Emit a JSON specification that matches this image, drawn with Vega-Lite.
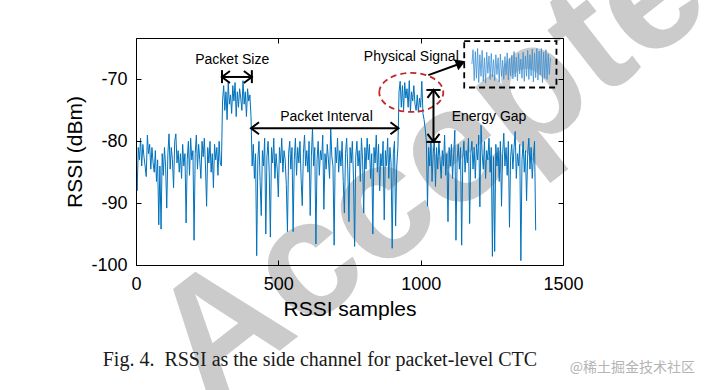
{
  "$schema": "https://vega.github.io/schema/vega-lite/v6.json",
  "width": 427,
  "height": 227,
  "autosize": {"type": "none"},
  "padding": {"left": 136, "top": 38, "right": 154, "bottom": 125},
  "background": "white",
  "config": {
    "view": {"stroke": null},
    "axis": {"domainColor": "#000", "tickColor": "#000", "labelColor": "#000", "titleColor": "#000", "grid": false, "domainWidth": 1, "tickWidth": 1, "labelFont": "Liberation Sans", "titleFont": "Liberation Sans", "titleFontWeight": "normal", "labelFlush": false, "zindex": 1}
  },
  "datasets": {
    "main": [
      {"sample":0,"rssi":-84.5},{"sample":4,"rssi":-88},{"sample":8,"rssi":-81},{"sample":12,"rssi":-83},{"sample":16,"rssi":-79.5},{"sample":20,"rssi":-84},{"sample":24,"rssi":-80.5},{"sample":28,"rssi":-82.5},{"sample":32,"rssi":-84},{"sample":36,"rssi":-85.7},{"sample":40,"rssi":-79},{"sample":44,"rssi":-82},{"sample":48,"rssi":-80.5},{"sample":52,"rssi":-84.5},{"sample":56,"rssi":-81},{"sample":60,"rssi":-83.5},{"sample":64,"rssi":-85},{"sample":68,"rssi":-81.5},{"sample":72,"rssi":-86.5},{"sample":76,"rssi":-83},{"sample":80,"rssi":-93.5},{"sample":84,"rssi":-84},{"sample":88,"rssi":-94.2},{"sample":92,"rssi":-82},{"sample":96,"rssi":-85.5},
      {"sample":100,"rssi":-81},{"sample":104,"rssi":-84},{"sample":108,"rssi":-90.8},{"sample":112,"rssi":-82},{"sample":116,"rssi":-78.8},{"sample":120,"rssi":-84.5},{"sample":124,"rssi":-81},{"sample":128,"rssi":-83},{"sample":132,"rssi":-87.5},{"sample":136,"rssi":-80},{"sample":140,"rssi":-78.8},{"sample":144,"rssi":-83.5},{"sample":148,"rssi":-81.5},{"sample":152,"rssi":-85},{"sample":156,"rssi":-82},{"sample":160,"rssi":-86},{"sample":164,"rssi":-80.5},{"sample":168,"rssi":-84},{"sample":172,"rssi":-82},{"sample":176,"rssi":-93.2},{"sample":180,"rssi":-83},{"sample":184,"rssi":-80},{"sample":188,"rssi":-85.5},{"sample":192,"rssi":-79.5},{"sample":196,"rssi":-83},
      {"sample":200,"rssi":-81.5},{"sample":204,"rssi":-96},{"sample":208,"rssi":-82},{"sample":212,"rssi":-79},{"sample":216,"rssi":-84.5},{"sample":220,"rssi":-80.5},{"sample":224,"rssi":-83},{"sample":228,"rssi":-86},{"sample":232,"rssi":-80},{"sample":236,"rssi":-82.5},{"sample":240,"rssi":-79.5},{"sample":244,"rssi":-84},{"sample":248,"rssi":-90.5},{"sample":252,"rssi":-81},{"sample":256,"rssi":-83.5},{"sample":260,"rssi":-80},{"sample":264,"rssi":-85},{"sample":268,"rssi":-82},{"sample":272,"rssi":-87.5},{"sample":276,"rssi":-80.5},{"sample":280,"rssi":-83},{"sample":284,"rssi":-81},{"sample":288,"rssi":-85.5},{"sample":292,"rssi":-80},{"sample":296,"rssi":-83.5},
      {"sample":300,"rssi":-84},{"sample":304,"rssi":-73.5},{"sample":308,"rssi":-71},{"sample":312,"rssi":-75},{"sample":316,"rssi":-72},{"sample":320,"rssi":-76.5},{"sample":324,"rssi":-70.5},{"sample":328,"rssi":-74},{"sample":332,"rssi":-72.5},{"sample":336,"rssi":-75.5},{"sample":340,"rssi":-71},{"sample":344,"rssi":-73.5},{"sample":348,"rssi":-70.5},{"sample":352,"rssi":-76},{"sample":356,"rssi":-72},{"sample":360,"rssi":-74.5},{"sample":364,"rssi":-71.5},{"sample":368,"rssi":-73},{"sample":372,"rssi":-75},{"sample":376,"rssi":-70.2},{"sample":380,"rssi":-74},{"sample":384,"rssi":-72},{"sample":388,"rssi":-76},{"sample":392,"rssi":-71.5},{"sample":396,"rssi":-73.5},
      {"sample":400,"rssi":-72.5},{"sample":404,"rssi":-76},{"sample":408,"rssi":-84},{"sample":412,"rssi":-80.5},{"sample":416,"rssi":-86},{"sample":420,"rssi":-82},{"sample":424,"rssi":-98.5},{"sample":428,"rssi":-83},{"sample":432,"rssi":-80},{"sample":436,"rssi":-86.5},{"sample":440,"rssi":-92},{"sample":444,"rssi":-81.5},{"sample":448,"rssi":-84},{"sample":452,"rssi":-79.5},{"sample":456,"rssi":-95},{"sample":460,"rssi":-82.5},{"sample":464,"rssi":-80},{"sample":468,"rssi":-85},{"sample":472,"rssi":-95.5},{"sample":476,"rssi":-81},{"sample":480,"rssi":-83.5},{"sample":484,"rssi":-79.5},{"sample":488,"rssi":-86},{"sample":492,"rssi":-82},{"sample":496,"rssi":-84.5},
      {"sample":500,"rssi":-89},{"sample":504,"rssi":-81},{"sample":508,"rssi":-83.5},{"sample":512,"rssi":-79.5},{"sample":516,"rssi":-85},{"sample":520,"rssi":-81.5},{"sample":524,"rssi":-83},{"sample":528,"rssi":-87},{"sample":532,"rssi":-94.6},{"sample":536,"rssi":-82},{"sample":540,"rssi":-80},{"sample":544,"rssi":-84.5},{"sample":548,"rssi":-81},{"sample":552,"rssi":-94.6},{"sample":556,"rssi":-83},{"sample":560,"rssi":-79.5},{"sample":564,"rssi":-85.5},{"sample":568,"rssi":-81},{"sample":572,"rssi":-83.5},{"sample":576,"rssi":-80},{"sample":580,"rssi":-86},{"sample":584,"rssi":-90.4},{"sample":588,"rssi":-82},{"sample":592,"rssi":-79},{"sample":596,"rssi":-84},
      {"sample":600,"rssi":-81.5},{"sample":604,"rssi":-85},{"sample":608,"rssi":-80},{"sample":612,"rssi":-92},{"sample":616,"rssi":-82.5},{"sample":620,"rssi":-77.9},{"sample":624,"rssi":-84},{"sample":628,"rssi":-81},{"sample":632,"rssi":-96.6},{"sample":636,"rssi":-83},{"sample":640,"rssi":-80},{"sample":644,"rssi":-85.5},{"sample":648,"rssi":-81.5},{"sample":652,"rssi":-83},{"sample":656,"rssi":-79},{"sample":660,"rssi":-91},{"sample":664,"rssi":-82},{"sample":668,"rssi":-84.5},{"sample":672,"rssi":-80.5},{"sample":676,"rssi":-83},{"sample":680,"rssi":-86},{"sample":684,"rssi":-77.9},{"sample":688,"rssi":-82.5},{"sample":692,"rssi":-84},{"sample":696,"rssi":-96.8},
      {"sample":700,"rssi":-81},{"sample":704,"rssi":-83.5},{"sample":708,"rssi":-79.5},{"sample":712,"rssi":-85},{"sample":716,"rssi":-81.5},{"sample":720,"rssi":-84},{"sample":724,"rssi":-80},{"sample":728,"rssi":-86.5},{"sample":732,"rssi":-91.6},{"sample":736,"rssi":-82},{"sample":740,"rssi":-79.5},{"sample":744,"rssi":-84.5},{"sample":748,"rssi":-93},{"sample":752,"rssi":-81},{"sample":756,"rssi":-83.5},{"sample":760,"rssi":-80},{"sample":764,"rssi":-86},{"sample":768,"rssi":-97},{"sample":772,"rssi":-82.5},{"sample":776,"rssi":-80},{"sample":780,"rssi":-84},{"sample":784,"rssi":-81.5},{"sample":788,"rssi":-86.5},{"sample":792,"rssi":-79.5},{"sample":796,"rssi":-83},
      {"sample":800,"rssi":-91.6},{"sample":804,"rssi":-81},{"sample":808,"rssi":-84.5},{"sample":812,"rssi":-79.5},{"sample":816,"rssi":-83},{"sample":820,"rssi":-80.5},{"sample":824,"rssi":-86},{"sample":828,"rssi":-82},{"sample":832,"rssi":-95},{"sample":836,"rssi":-81},{"sample":840,"rssi":-83.5},{"sample":844,"rssi":-79},{"sample":848,"rssi":-85},{"sample":852,"rssi":-80.5},{"sample":856,"rssi":-88},{"sample":860,"rssi":-82},{"sample":864,"rssi":-84},{"sample":868,"rssi":-80},{"sample":872,"rssi":-92.7},{"sample":876,"rssi":-81.5},{"sample":880,"rssi":-84},{"sample":884,"rssi":-79.5},{"sample":888,"rssi":-86},{"sample":892,"rssi":-81},{"sample":896,"rssi":-83.5},
      {"sample":900,"rssi":-97.3},{"sample":904,"rssi":-82},{"sample":908,"rssi":-80},{"sample":912,"rssi":-93.7},{"sample":916,"rssi":-84},{"sample":920,"rssi":-81},{"sample":924,"rssi":-72},{"sample":928,"rssi":-70.3},{"sample":932,"rssi":-74.5},{"sample":936,"rssi":-71},{"sample":940,"rssi":-75},{"sample":944,"rssi":-70.5},{"sample":948,"rssi":-73},{"sample":952,"rssi":-71.5},{"sample":956,"rssi":-74.5},{"sample":960,"rssi":-70.2},{"sample":964,"rssi":-75.2},{"sample":968,"rssi":-72},{"sample":972,"rssi":-73.5},{"sample":976,"rssi":-71},{"sample":980,"rssi":-74},{"sample":984,"rssi":-75},{"sample":988,"rssi":-72.5},{"sample":992,"rssi":-75.3},{"sample":996,"rssi":-73},
      {"sample":1000,"rssi":-74.5},{"sample":1004,"rssi":-70.3},{"sample":1008,"rssi":-75.5},{"sample":1012,"rssi":-76.5},{"sample":1016,"rssi":-78},{"sample":1020,"rssi":-80},{"sample":1024,"rssi":-90.5},{"sample":1028,"rssi":-81},{"sample":1032,"rssi":-84},{"sample":1036,"rssi":-80},{"sample":1040,"rssi":-86.5},{"sample":1044,"rssi":-82},{"sample":1048,"rssi":-79.5},{"sample":1052,"rssi":-87.3},{"sample":1056,"rssi":-81},{"sample":1060,"rssi":-84.5},{"sample":1064,"rssi":-80},{"sample":1068,"rssi":-83},{"sample":1072,"rssi":-86},{"sample":1076,"rssi":-81.5},{"sample":1080,"rssi":-84},{"sample":1084,"rssi":-79},{"sample":1088,"rssi":-85.5},{"sample":1092,"rssi":-82},{"sample":1096,"rssi":-93},
      {"sample":1100,"rssi":-81},{"sample":1104,"rssi":-84},{"sample":1108,"rssi":-80.5},{"sample":1112,"rssi":-86},{"sample":1116,"rssi":-82},{"sample":1120,"rssi":-78.2},{"sample":1124,"rssi":-96},{"sample":1128,"rssi":-83},{"sample":1132,"rssi":-80.5},{"sample":1136,"rssi":-84.5},{"sample":1140,"rssi":-81},{"sample":1144,"rssi":-96.8},{"sample":1148,"rssi":-82.5},{"sample":1152,"rssi":-80},{"sample":1156,"rssi":-85},{"sample":1160,"rssi":-81.5},{"sample":1164,"rssi":-83.5},{"sample":1168,"rssi":-79.5},{"sample":1172,"rssi":-93.3},{"sample":1176,"rssi":-82},{"sample":1180,"rssi":-80},{"sample":1184,"rssi":-84.5},{"sample":1188,"rssi":-81},{"sample":1192,"rssi":-86},{"sample":1196,"rssi":-80.5},
      {"sample":1200,"rssi":-83},{"sample":1204,"rssi":-79},{"sample":1208,"rssi":-90.6},{"sample":1212,"rssi":-77.4},{"sample":1216,"rssi":-82},{"sample":1220,"rssi":-84.5},{"sample":1224,"rssi":-80},{"sample":1228,"rssi":-86},{"sample":1232,"rssi":-81.5},{"sample":1236,"rssi":-83},{"sample":1240,"rssi":-79.5},{"sample":1244,"rssi":-85},{"sample":1248,"rssi":-81},{"sample":1252,"rssi":-98.6},{"sample":1256,"rssi":-82.5},{"sample":1260,"rssi":-97.8},{"sample":1264,"rssi":-80.5},{"sample":1268,"rssi":-84},{"sample":1272,"rssi":-81},{"sample":1276,"rssi":-86.5},{"sample":1280,"rssi":-80},{"sample":1284,"rssi":-90.5},{"sample":1288,"rssi":-82},{"sample":1292,"rssi":-78.7},{"sample":1296,"rssi":-84},
      {"sample":1300,"rssi":-81},{"sample":1304,"rssi":-85.5},{"sample":1308,"rssi":-80},{"sample":1312,"rssi":-93.9},{"sample":1316,"rssi":-82.5},{"sample":1320,"rssi":-80.5},{"sample":1324,"rssi":-84.5},{"sample":1328,"rssi":-81},{"sample":1332,"rssi":-78.4},{"sample":1336,"rssi":-86},{"sample":1340,"rssi":-82},{"sample":1344,"rssi":-84},{"sample":1348,"rssi":-80.5},{"sample":1352,"rssi":-99.3},{"sample":1356,"rssi":-83},{"sample":1360,"rssi":-80},{"sample":1364,"rssi":-85},{"sample":1368,"rssi":-81.5},{"sample":1372,"rssi":-89.6},{"sample":1376,"rssi":-82},{"sample":1380,"rssi":-79.5},{"sample":1384,"rssi":-84.5},{"sample":1388,"rssi":-81},{"sample":1392,"rssi":-86},{"sample":1396,"rssi":-82.5},
      {"sample":1400,"rssi":-80},{"sample":1404,"rssi":-94.4}
    ],
    "inset": [
      {"sample":1180,"rssi":-67.5},{"sample":1184,"rssi":-65.2},{"sample":1188,"rssi":-70.2},{"sample":1192,"rssi":-65.5},{"sample":1196,"rssi":-69.8},{"sample":1200,"rssi":-65.0},{"sample":1204,"rssi":-70.5},{"sample":1208,"rssi":-66.0},{"sample":1212,"rssi":-69.5},{"sample":1216,"rssi":-65.3},{"sample":1220,"rssi":-70.3},{"sample":1224,"rssi":-66.5},{"sample":1228,"rssi":-70.6},{"sample":1232,"rssi":-65.6},{"sample":1236,"rssi":-69.0},{"sample":1240,"rssi":-66.2},{"sample":1244,"rssi":-70.0},{"sample":1248,"rssi":-65.8},{"sample":1252,"rssi":-69.6},{"sample":1256,"rssi":-66.8},{"sample":1260,"rssi":-70.2},{"sample":1264,"rssi":-66.0},{"sample":1268,"rssi":-69.2},{"sample":1272,"rssi":-66.5},{"sample":1276,"rssi":-70.4},{"sample":1280,"rssi":-65.9},{"sample":1284,"rssi":-69.5},{"sample":1288,"rssi":-66.9},{"sample":1292,"rssi":-70.0},{"sample":1296,"rssi":-66.3},{"sample":1300,"rssi":-69.3},{"sample":1304,"rssi":-65.7},{"sample":1308,"rssi":-70.1},{"sample":1312,"rssi":-66.6},{"sample":1316,"rssi":-69.4},{"sample":1320,"rssi":-66.1},{"sample":1324,"rssi":-69.9},{"sample":1328,"rssi":-65.5},{"sample":1332,"rssi":-69.6},{"sample":1336,"rssi":-66.4},{"sample":1340,"rssi":-70.2},{"sample":1344,"rssi":-65.8},{"sample":1348,"rssi":-69.1},{"sample":1352,"rssi":-66.7},{"sample":1356,"rssi":-69.8},{"sample":1360,"rssi":-65.6},{"sample":1364,"rssi":-70.3},{"sample":1368,"rssi":-66.2},{"sample":1372,"rssi":-69.5},{"sample":1376,"rssi":-65.3},{"sample":1380,"rssi":-70.0},{"sample":1384,"rssi":-66.0},{"sample":1388,"rssi":-69.4},{"sample":1392,"rssi":-65.1},{"sample":1396,"rssi":-70.4},{"sample":1400,"rssi":-65.7},{"sample":1404,"rssi":-69.7},{"sample":1408,"rssi":-65.0},{"sample":1412,"rssi":-70.1},{"sample":1416,"rssi":-65.4},{"sample":1420,"rssi":-69.3},{"sample":1424,"rssi":-65.0},{"sample":1428,"rssi":-70.5},{"sample":1432,"rssi":-65.6},{"sample":1436,"rssi":-69.8},{"sample":1440,"rssi":-65.2},{"sample":1444,"rssi":-70.0},{"sample":1448,"rssi":-65.9},{"sample":1452,"rssi":-69.2},{"sample":1456,"rssi":-66.5}
    ],
    "segments": [
      {"part":"packet size","sample":302,"rssi":-69.6,"sample2":407,"rssi2":-69.6},
      {"part":"packet size start","sample":302,"rssi":-68.5,"sample2":302,"rssi2":-70.6},
      {"part":"packet size end","sample":407,"rssi":-68.5,"sample2":407,"rssi2":-70.6},
      {"part":"packet interval","sample":404,"rssi":-77.9,"sample2":922,"rssi2":-77.9},
      {"part":"energy gap","sample":1045,"rssi":-71.7,"sample2":1045,"rssi2":-80.1},
      {"part":"energy gap top","sample":1020,"rssi":-71.7,"sample2":1070,"rssi2":-71.7},
      {"part":"energy gap bottom","sample":1020,"rssi":-80.1,"sample2":1070,"rssi2":-80.1},
      {"part":"signal pointer","sample":1027,"rssi":-69.3,"sample2":1135,"rssi2":-67.5}
    ],
    "heads": [
      {"dir":"left","sample":302,"rssi":-69.6},
      {"dir":"right","sample":407,"rssi":-69.6},
      {"dir":"left","sample":404,"rssi":-77.9},
      {"dir":"right","sample":922,"rssi":-77.9},
      {"dir":"up","sample":1045,"rssi":-71.7},
      {"dir":"down","sample":1045,"rssi":-80.1}
    ],
    "labels": [
      {"label":"Packet Size","sample":338,"rssi":-66.8},
      {"label":"Packet Interval","sample":669,"rssi":-76.1},
      {"label":"Physical Signal","sample":967,"rssi":-66.35},
      {"label":"Energy Gap","sample":1240,"rssi":-76.1}
    ]
  },
  "encoding": {
    "x": {"field": "sample", "type": "quantitative", "scale": {"domain": [0, 1500], "nice": false, "zero": false}, "axis": null},
    "y": {"field": "rssi", "type": "quantitative", "scale": {"domain": [-100, -63.3], "nice": false, "zero": false}, "axis": null}
  },
  "layer": [
    {
      "data": {"values": [{"label": "Accepted", "sample": 250, "rssi": -123.0}]},
      "mark": {"type": "text", "font": "Liberation Sans", "fontWeight": "bold", "fontSize": 166, "angle": -38, "align": "left", "baseline": "alphabetic", "color": "#cbcbcb", "zindex": 0},
      "encoding": {"text": {"field": "label"}}
    },
    {
      "data": {"name": "main"},
      "mark": {"type": "line", "color": "#0072BD", "strokeWidth": 1, "clip": true},
      "encoding": {
        "x": {"field": "sample", "type": "quantitative", "scale": {"domain": [0, 1500], "nice": false, "zero": false},
              "axis": {"orient": "bottom", "zindex": 1, "values": [0, 500, 1000, 1500], "labelExpr": "toString(datum.value)", "title": "RSSI samples", "titleFontSize": 21, "titlePadding": 5, "labelFontSize": 18, "labelPadding": 15, "tickSize": -5}},
        "y": {"field": "rssi", "type": "quantitative", "scale": {"domain": [-100, -63.3], "nice": false, "zero": false},
              "axis": {"orient": "left", "zindex": 1, "values": [-100, -90, -80, -70], "labelExpr": "toString(datum.value)", "title": "RSSI (dBm)", "titleFontSize": 21, "titlePadding": 5, "labelFontSize": 18, "labelPadding": 14, "tickSize": -5}}
      }
    },
    {
      "data": {"name": "inset"},
      "mark": {"type": "line", "color": "#3b8fd4", "strokeWidth": 0.8}
    },
    {
      "data": {"values": [{"part": "inset frame", "sample": 1153, "rssi": -63.8, "sample2": 1477, "rssi2": -71.3}]},
      "mark": {"type": "rect", "filled": false, "stroke": "#000", "strokeWidth": 1.8, "strokeDash": [6, 4]},
      "encoding": {"x2": {"field": "sample2"}, "y2": {"field": "rssi2"}}
    },
    {
      "data": {"values": [{"part": "highlight", "sample": 967, "rssi": -72.1}]},
      "mark": {"type": "point", "shape": "M -1 0 A 1 0.61 0 1 1 1 0 A 1 0.61 0 1 1 -1 0 Z", "size": 4096, "filled": false, "stroke": "#c1272d", "strokeWidth": 1.8, "strokeDash": [6, 4], "opacity": 1},
      "encoding": {
        "x": {"field": "sample", "type": "quantitative", "scale": {"domain": [0, 1500], "nice": false, "zero": false},
              "axis": {"orient": "top", "zindex": 1, "values": [0, 500, 1000, 1500], "labels": false, "title": null, "tickSize": -5}},
        "y": {"field": "rssi", "type": "quantitative", "scale": {"domain": [-100, -63.3], "nice": false, "zero": false},
              "axis": {"orient": "right", "zindex": 1, "values": [-100, -90, -80, -70], "labels": false, "title": null, "tickSize": -5}}
      }
    },
    {
      "data": {"name": "segments"},
      "mark": {"type": "rule", "color": "#000", "strokeWidth": 2},
      "encoding": {"x2": {"field": "sample2"}, "y2": {"field": "rssi2"}}
    },
    {
      "data": {"name": "heads"},
      "transform": [{"filter": "datum.dir === 'up'"}],
      "mark": {"type": "point", "shape": "M -0.75 1 L 0 0 L 0.75 1", "size": 256, "filled": false, "stroke": "#000", "strokeWidth": 2, "opacity": 1, "angle": 0}
    },
    {
      "data": {"name": "heads"},
      "transform": [{"filter": "datum.dir === 'down'"}],
      "mark": {"type": "point", "shape": "M -0.75 1 L 0 0 L 0.75 1", "size": 256, "filled": false, "stroke": "#000", "strokeWidth": 2, "opacity": 1, "angle": 180}
    },
    {
      "data": {"name": "heads"},
      "transform": [{"filter": "datum.dir === 'left'"}],
      "mark": {"type": "point", "shape": "M -0.75 1 L 0 0 L 0.75 1", "size": 256, "filled": false, "stroke": "#000", "strokeWidth": 2, "opacity": 1, "angle": 270}
    },
    {
      "data": {"name": "heads"},
      "transform": [{"filter": "datum.dir === 'right'"}],
      "mark": {"type": "point", "shape": "M -0.75 1 L 0 0 L 0.75 1", "size": 256, "filled": false, "stroke": "#000", "strokeWidth": 2, "opacity": 1, "angle": 90}
    },
    {
      "data": {"values": [{"part": "signal pointer head", "sample": 1141, "rssi": -67.35}]},
      "mark": {"type": "point", "shape": "triangle-right", "size": 130, "filled": true, "color": "#000", "opacity": 1, "angle": -21}
    },
    {
      "data": {"name": "labels"},
      "mark": {"type": "text", "font": "Liberation Sans", "fontSize": 14, "align": "center", "baseline": "middle", "color": "#000", "zindex": 2},
      "encoding": {"text": {"field": "label"}}
    },
    {
      "data": {"values": [{"label": "Fig. 4.\u00a0\u00a0RSSI as the side channel for packet-level CTC", "sample": 646, "rssi": -115.4}]},
      "mark": {"type": "text", "font": "Liberation Serif", "fontSize": 20, "align": "center", "baseline": "middle", "color": "#1a1a1a", "zindex": 2},
      "encoding": {"text": {"field": "label"}}
    },
    {
      "data": {"values": [{"label": "@稀土掘金技术社区", "sample": 1524, "rssi": -116.6}]},
      "mark": {"type": "text", "font": "Noto Sans CJK SC", "fontSize": 14, "align": "left", "baseline": "middle", "color": "#b4b4b4", "zindex": 2},
      "encoding": {"text": {"field": "label"}}
    }
  ],
  "resolve": {"axis": {"x": "independent", "y": "independent"}}
}
